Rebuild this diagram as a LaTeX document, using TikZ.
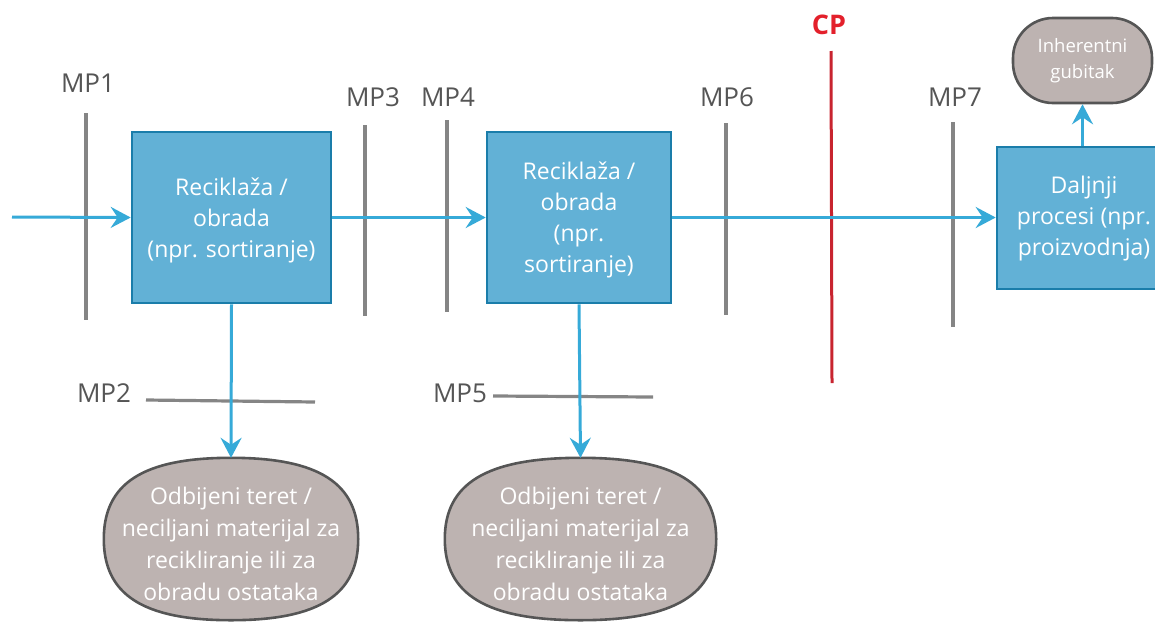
\documentclass[tikz,border=0pt]{standalone}
\usepackage{fontspec}
\setmainfont{Open Sans}
\usetikzlibrary{arrows.meta}
\definecolor{flowblue}{HTML}{36AAD8}
\definecolor{boxfill}{HTML}{62B1D6}
\definecolor{boxedge}{HTML}{1A7DAA}
\definecolor{lossfill}{HTML}{BDB3B1}
\definecolor{lossedge}{HTML}{555555}
\definecolor{mpgray}{HTML}{858585}
\definecolor{labgray}{HTML}{555555}
\definecolor{cpred}{HTML}{E3202B}
\definecolor{cpline}{HTML}{C8242F}
\tikzset{
  procbox/.style={draw=boxedge, line width=2.6pt, fill=boxfill, text=white, align=center, font=\fontsize{23}{31}\selectfont, inner sep=0pt},
  lossnode/.style={draw=lossedge, line width=2.6pt, fill=lossfill, text=white, align=center, font=\fontsize{23}{32}\selectfont, inner sep=0pt, rounded corners=40pt},
  rejnode/.style={text=white, align=center, font=\fontsize{23}{32}\selectfont, inner sep=0pt},
  rejshape/.style={draw=lossedge, line width=2.6pt, fill=lossfill},
  flow/.style={draw=flowblue, line width=3pt, -{Stealth[length=20pt,width=21pt,inset=7pt]}},
  mpline/.style={draw=mpgray, line width=3.2pt},
  mplabel/.style={text=labgray, font=\fontsize{26}{28}\selectfont, inner sep=0pt},
}
\newcommand{\squircle}[1]{%
  \path[rejshape] (#1.north) .. controls ([xshift=-0.7*\rejw]#1.north) and ([yshift=0.68*\rejh]#1.west) .. (#1.west)
    .. controls ([yshift=-0.68*\rejh]#1.west) and ([xshift=-0.7*\rejw]#1.south) .. (#1.south)
    .. controls ([xshift=0.7*\rejw]#1.south) and ([yshift=-0.68*\rejh]#1.east) .. (#1.east)
    .. controls ([yshift=0.68*\rejh]#1.east) and ([xshift=0.7*\rejw]#1.north) .. (#1.north) -- cycle;}
\newlength{\rejw}\newlength{\rejh}
\begin{document}
\begin{tikzpicture}[x=1pt,y=-1pt]
\useasboundingbox (0,0) rectangle (1155,624);
\clip (0,0) rectangle (1155,624);
% measurement points
\draw[mpline] (86,113) coordinate (mp1a) -- (86,320) coordinate (mp1b);
\node[mplabel] (mp1) at (88,83) {MP1};
\draw[mpline] (365,125) coordinate (mp3a) -- (365,316) coordinate (mp3b);
\node[mplabel] (mp3) at (373,97) {MP3};
\draw[mpline] (447,120) coordinate (mp4a) -- (447,312) coordinate (mp4b);
\node[mplabel] (mp4) at (448,97) {MP4};
\draw[mpline] (726,123) coordinate (mp6a) -- (726,315) coordinate (mp6b);
\node[mplabel] (mp6) at (727,97) {MP6};
\draw[mpline] (953,122) coordinate (mp7a) -- (953,327) coordinate (mp7b);
\node[mplabel] (mp7) at (955,97) {MP7};
\draw[mpline] (146,400) coordinate (mp2a) -- (315,402) coordinate (mp2b);
\node[mplabel] (mp2) at (104,393) {MP2};
\draw[mpline] (493,396) coordinate (mp5a) -- (653,397) coordinate (mp5b);
\node[mplabel] (mp5) at (460,393) {MP5};
% CP
\draw[draw=cpline, line width=3pt] (831,51) coordinate (cpa) -- (832,383) coordinate (cpb);
\node[text=cpred, font=\bfseries\fontsize{27}{30}\selectfont, inner sep=0pt] (cp) at (829,25) {CP};
% process boxes
\node[procbox, minimum width=199pt, minimum height=171pt] (b1) at (231.5,217.5) {};
\node[text=white, align=center, font=\fontsize{23}{31}\selectfont, inner sep=0pt] (b1t) at (231.5,220) {Reciklaža /\\obrada\\(npr. sortiranje)};
\node[procbox, minimum width=184pt, minimum height=171pt] (b2) at (579,217.5) {};
\node[text=white, align=center, font=\fontsize{23}{31}\selectfont, inner sep=0pt] (b2t) at (579,220) {Reciklaža /\\obrada\\(npr.\\sortiranje)};
\node[procbox, minimum width=176pt, minimum height=142pt] (b3) at (1085,218) {};
\node[text=white, align=center, font=\fontsize{23}{31}\selectfont, inner sep=0pt] (b3t) at (1084,219) {Daljnji\\procesi (npr.\\proizvodnja)};
\node[lossnode, minimum width=139pt, minimum height=85pt, font=\fontsize{18.5}{26}\selectfont] (loss) at (1082.5,60.5) {Inherentni\\gubitak};
% reject nodes
\node[minimum width=254pt, minimum height=162pt, inner sep=0pt] (r1) at (231,539) {};
\setlength{\rejw}{127pt}\setlength{\rejh}{81pt}
\squircle{r1}
\node[rejnode] (r1t) at (231,544) {Odbijeni teret /\\neciljani materijal za\\recikliranje ili za\\obradu ostataka};
\node[minimum width=271pt, minimum height=162pt, inner sep=0pt] (r2) at (580.5,539) {};
\setlength{\rejw}{135.5pt}
\squircle{r2}
\node[rejnode] (r2t) at (580.5,544) {Odbijeni teret /\\neciljani materijal za\\recikliranje ili za\\obradu ostataka};
% flows
\coordinate (in) at (12,217);
\draw[flow] (in) -- (b1.west);
\draw[flow] (b1.east) -- (b2.west);
\draw[flow] (b2.east) -- (b3.west |- b2.east);
\draw[flow] (b1.south) -- (r1.north);
\draw[flow] (b2.south) -- (r2.north);
\draw[flow] (b3.north -| loss.south) -- (loss.south);
\end{tikzpicture}
\end{document}
